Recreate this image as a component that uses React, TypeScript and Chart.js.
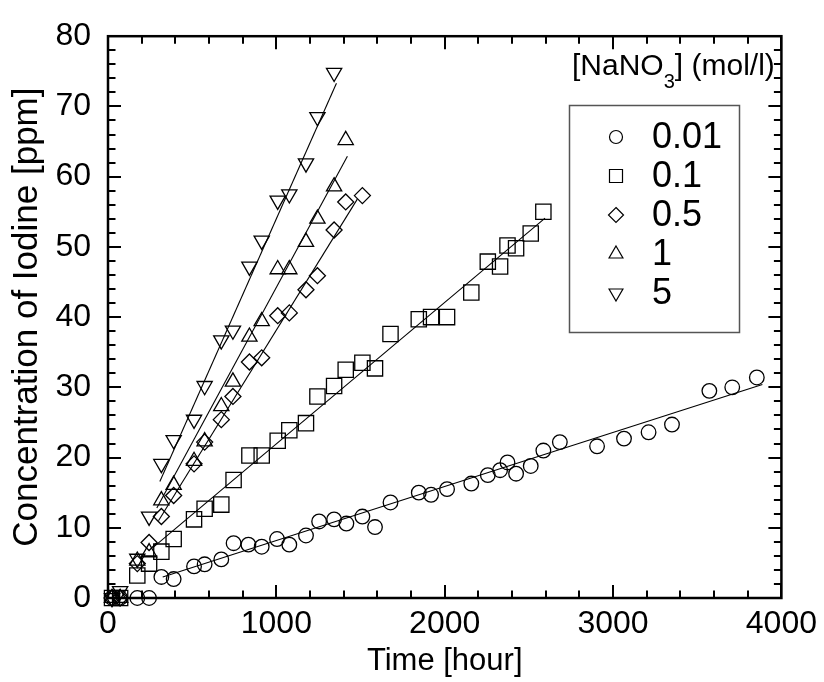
import React, { useEffect, useRef } from "react";
import { Chart, registerables } from "chart.js";

Chart.register(...registerables);

const FONT = "'Liberation Sans', Arial, Helvetica, sans-serif";

// ---- data ----
const seriesLabels = ["0.01", "0.1", "0.5", "1", "5"];

const t001 = [24, 72, 174, 244, 317, 390, 511, 574, 673, 746, 834, 913, 1004, 1077, 1176, 1254, 1343, 1416, 1511, 1586, 1678, 1846, 1919, 2014, 2158, 2256, 2329, 2373, 2424, 2511, 2586, 2684, 2905, 3065, 3211, 3350, 3572, 3708, 3854];
const c001 = [0, 0, 0, 0, 3.0, 2.7, 4.5, 4.8, 5.5, 7.8, 7.6, 7.3, 8.4, 7.6, 8.9, 10.9, 11.2, 10.6, 11.6, 10.1, 13.6, 15.0, 14.7, 15.5, 16.3, 17.5, 18.2, 19.3, 17.7, 18.8, 21.0, 22.2, 21.6, 22.7, 23.6, 24.7, 29.5, 30.0, 31.4];

const t01 = [24, 72, 174, 244, 317, 390, 511, 574, 673, 746, 840, 913, 1008, 1077, 1176, 1244, 1343, 1412, 1511, 1586, 1678, 1846, 1919, 2014, 2158, 2256, 2329, 2373, 2424, 2511, 2586];
const c01 = [0, 0, 3.2, 4.9, 6.6, 8.4, 11.2, 12.7, 13.3, 16.8, 20.3, 20.3, 22.4, 23.9, 24.9, 28.7, 30.2, 32.5, 33.5, 32.7, 37.6, 39.7, 40.0, 40.0, 43.5, 47.9, 47.2, 50.2, 49.8, 51.9, 55.0];

const t05 = [24, 72, 174, 244, 317, 390, 511, 574, 673, 742, 840, 913, 1008, 1077, 1176, 1244, 1343, 1412, 1511];
const c05 = [0, 0, 4.9, 7.9, 11.6, 14.6, 19.1, 22.2, 25.4, 28.7, 33.6, 34.2, 40.2, 40.6, 43.9, 45.9, 52.4, 56.4, 57.3];

const t1 = [24, 72, 174, 244, 317, 390, 511, 574, 673, 742, 840, 913, 1008, 1077, 1176, 1244, 1343, 1412];
const c1 = [0, 0, 5.3, 6.5, 13.9, 16.1, 19.5, 22.3, 27.3, 30.8, 37.2, 39.4, 46.8, 46.8, 50.7, 54.0, 58.6, 65.2];

const t5 = [24, 72, 174, 244, 317, 390, 511, 574, 673, 742, 840, 913, 1008, 1077, 1176, 1244, 1343];
const c5 = [0, 1.0, 5.6, 11.6, 19.1, 22.5, 25.4, 30.2, 36.7, 38.1, 47.2, 50.9, 56.6, 57.5, 61.9, 68.5, 74.8];

// fitted lines: [x start, x end], [y start, y end]
const fit001X = [325, 3887];
const fit001Y = [3.0, 30.4];
const fit01X = [268, 2596];
const fit01Y = [7.2, 54.1];
const fit05X = [300, 1481];
const fit05Y = [11.0, 56.8];
const fit1X = [290, 1422];
const fit1Y = [12.8, 62.9];
const fit5X = [308, 1357];
const fit5Y = [16.6, 73.3];

const xTickValues = [0, 1000, 2000, 3000, 4000];
const yTickValues = [0, 10, 20, 30, 40, 50, 60, 70, 80];

const zip = (xs: number[], ys: number[]) => xs.map((x, i) => ({ x, y: ys[i] }));

type Marker = { style: string; radius: number; rotation: number };
const markers: Marker[] = [
  { style: "circle", radius: 7.3, rotation: 0 },
  { style: "rect", radius: 10.8, rotation: 0 },
  { style: "rectRot", radius: 8, rotation: 0 },
  { style: "triangle", radius: 8.8, rotation: 0 },
  { style: "triangle", radius: 8.8, rotation: 180 },
];

function drawLegendMarker(ctx: CanvasRenderingContext2D, kind: number, x: number, y: number) {
  ctx.beginPath();
  if (kind === 0) {
    ctx.arc(x, y, 6.5, 0, Math.PI * 2);
  } else if (kind === 1) {
    ctx.rect(x - 6.5, y - 6.5, 13, 13);
  } else if (kind === 2) {
    ctx.moveTo(x, y - 7.5);
    ctx.lineTo(x + 7.5, y);
    ctx.lineTo(x, y + 7.5);
    ctx.lineTo(x - 7.5, y);
    ctx.closePath();
  } else if (kind === 3) {
    const r = 8;
    ctx.moveTo(x, y - r);
    ctx.lineTo(x + r * 0.866, y + r / 2);
    ctx.lineTo(x - r * 0.866, y + r / 2);
    ctx.closePath();
  } else {
    const r = 8;
    ctx.moveTo(x, y + r);
    ctx.lineTo(x + r * 0.866, y - r / 2);
    ctx.lineTo(x - r * 0.866, y - r / 2);
    ctx.closePath();
  }
  ctx.stroke();
}

const framePlugin = {
  id: "frameTicks",
  afterDraw(chart: any) {
    const ctx: CanvasRenderingContext2D = chart.ctx;
    const { left, right, top, bottom } = chart.chartArea;
    const xs = chart.scales.x;
    const ys = chart.scales.y;
    ctx.save();
    ctx.strokeStyle = "#000";
    ctx.lineWidth = 2;
    ctx.lineCap = "butt";
    for (let v = 0; v <= 4000; v += 200) {
      const px = Math.round(xs.getPixelForValue(v));
      const len = v % 1000 === 0 ? 13 : 7.5;
      ctx.beginPath();
      ctx.moveTo(px, bottom);
      ctx.lineTo(px, bottom - len);
      ctx.moveTo(px, top);
      ctx.lineTo(px, top + len);
      ctx.stroke();
    }
    for (let v = 0; v <= 80; v += 2) {
      const py = Math.round(ys.getPixelForValue(v));
      const len = v % 10 === 0 ? 13 : 7.5;
      ctx.beginPath();
      ctx.moveTo(left, py);
      ctx.lineTo(left + len, py);
      ctx.moveTo(right, py);
      ctx.lineTo(right - len, py);
      ctx.stroke();
    }
    ctx.lineWidth = 2.5;
    ctx.strokeRect(left, top, right - left, bottom - top);

    // header text
    ctx.fillStyle = "#000";
    ctx.textBaseline = "alphabetic";
    ctx.textAlign = "left";
    ctx.font = `30px ${FONT}`;
    let hx = 572;
    const part1 = "[NaNO";
    ctx.fillText(part1, hx, 75);
    hx += ctx.measureText(part1).width;
    ctx.font = `20px ${FONT}`;
    ctx.fillText("3", hx, 88);
    hx += ctx.measureText("3").width;
    ctx.font = `30px ${FONT}`;
    ctx.fillText("] (mol/l)", hx, 75);

    // legend box
    ctx.lineWidth = 1.5;
    ctx.strokeStyle = "#555";
    ctx.strokeRect(569.5, 105.5, 170, 227);
    ctx.strokeStyle = "#000";
    ctx.lineWidth = 1.2;
    const rowY = [137, 176, 215, 254, 293];
    ctx.font = `36px ${FONT}`;
    ctx.textBaseline = "middle";
    seriesLabels.forEach((lab, i) => {
      drawLegendMarker(ctx, i, 616, rowY[i]);
      ctx.fillText(lab, 652, rowY[i] + 1);
    });
    ctx.restore();
  },
};

export default function App() {
  const ref = useRef<HTMLCanvasElement>(null);
  useEffect(() => {
    if (!ref.current) return;
    const scatterSets = [
      [t001, c001],
      [t01, c01],
      [t05, c05],
      [t1, c1],
      [t5, c5],
    ].map(([xs, ys], i) => ({
      type: "scatter" as const,
      label: seriesLabels[i],
      data: zip(xs, ys),
      pointStyle: markers[i].style,
      pointRadius: markers[i].radius,
      pointRotation: markers[i].rotation,
      pointBorderWidth: 1.3,
      pointBorderColor: "#000",
      pointBackgroundColor: "rgba(0,0,0,0)",
      showLine: false,
      clip: false,
    }));
    const fitSets = [
      [fit001X, fit001Y],
      [fit01X, fit01Y],
      [fit05X, fit05Y],
      [fit1X, fit1Y],
      [fit5X, fit5Y],
    ].map(([xs, ys], i) => ({
      type: "scatter" as const,
      label: "fit " + seriesLabels[i],
      data: zip(xs, ys),
      showLine: true,
      borderColor: "#000",
      borderWidth: 1.1,
      pointRadius: 0,
      fill: false,
    }));
    const chart = new Chart(ref.current, {
      type: "scatter",
      data: { datasets: [...fitSets, ...scatterSets] as any },
      options: {
        animation: false,
        responsive: false,
        devicePixelRatio: 1,
        layout: { padding: { left: 0, top: 28, right: 39, bottom: 0 } },
        plugins: { legend: { display: false }, tooltip: { enabled: false } },
        scales: {
          x: {
            type: "linear",
            min: 0,
            max: 4000,
            afterFit: (s: any) => {
              s.height = 84;
            },
            afterBuildTicks: (s: any) => {
              s.ticks = xTickValues.map((v) => ({ value: v }));
            },
            grid: { display: false, drawTicks: false },
            border: { display: false },
            ticks: {
              padding: 7,
              color: "#000",
              font: { family: FONT, size: 32 },
              maxRotation: 0,
              callback: (v: any) => String(v),
            },
            title: {
              display: true,
              text: "Time [hour]",
              color: "#000",
              font: { family: FONT, size: 31 },
              padding: { top: 0, bottom: 2 },
            },
          },
          y: {
            type: "linear",
            min: 0,
            max: 80,
            afterFit: (s: any) => {
              s.width = 108;
            },
            afterBuildTicks: (s: any) => {
              s.ticks = yTickValues.map((v) => ({ value: v }));
            },
            grid: { display: false, drawTicks: false },
            border: { display: false },
            ticks: {
              padding: 17,
              color: "#000",
              font: { family: FONT, size: 32 },
              callback: (v: any) => String(v),
            },
            title: {
              display: true,
              text: "Concentration of Iodine [ppm]",
              color: "#000",
              font: { family: FONT, size: 35 },
              padding: { top: 6, bottom: 0 },
            },
          },
        },
      },
      plugins: [framePlugin],
    });
    return () => chart.destroy();
  }, []);
  return (
    <div style={{ position: "fixed", left: 0, top: 0, width: 824, height: 682, background: "#fff" }}>
      <canvas ref={ref} width={824} height={682} style={{ display: "block" }} />
    </div>
  );
}
